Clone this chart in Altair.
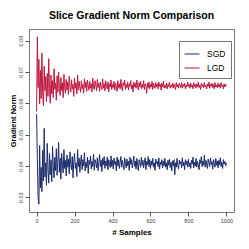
import altair as alt
import pandas as pd

samples = list(range(0, 1001, 4))

sgd = [
    0.0565, 0.0420, 0.0300, 0.0278, 0.0465, 0.0330, 0.0395, 0.0318, 0.0450, 0.0352,
    0.0520, 0.0365, 0.0410, 0.0338, 0.0472, 0.0390, 0.0345, 0.0440, 0.0372, 0.0418,
    0.0350, 0.0462, 0.0398, 0.0362, 0.0428, 0.0385, 0.0455, 0.0370, 0.0412, 0.0475,
    0.0380, 0.0425, 0.0358, 0.0440, 0.0402, 0.0378, 0.0452, 0.0392, 0.0418, 0.0368,
    0.0435, 0.0396, 0.0422, 0.0375, 0.0445, 0.0405, 0.0388, 0.0430, 0.0362, 0.0415,
    0.0440, 0.0392, 0.0410, 0.0366, 0.0452, 0.0398, 0.0425, 0.0380, 0.0415, 0.0435,
    0.0388, 0.0420, 0.0400, 0.0442, 0.0384, 0.0412, 0.0395, 0.0428, 0.0376, 0.0418,
    0.0405, 0.0432, 0.0390, 0.0415, 0.0398, 0.0438, 0.0386, 0.0420, 0.0410, 0.0394,
    0.0426, 0.0385, 0.0412, 0.0436, 0.0398, 0.0418, 0.0382, 0.0424, 0.0404, 0.0430,
    0.0392, 0.0415, 0.0400, 0.0428, 0.0388, 0.0420, 0.0408, 0.0395, 0.0432, 0.0398,
    0.0418, 0.0390, 0.0425, 0.0405, 0.0414, 0.0385, 0.0428, 0.0400, 0.0420, 0.0392,
    0.0412, 0.0430, 0.0396, 0.0418, 0.0402, 0.0388, 0.0426, 0.0408, 0.0394, 0.0422,
    0.0400, 0.0415, 0.0386, 0.0428, 0.0405, 0.0420, 0.0394, 0.0412, 0.0432, 0.0398,
    0.0416, 0.0390, 0.0424, 0.0406, 0.0385, 0.0420, 0.0410, 0.0396, 0.0428, 0.0402,
    0.0418, 0.0394, 0.0412, 0.0426, 0.0388, 0.0414, 0.0404, 0.0430, 0.0398, 0.0420,
    0.0392, 0.0416, 0.0402, 0.0424, 0.0396, 0.0410, 0.0386, 0.0422, 0.0408, 0.0414,
    0.0398, 0.0426, 0.0390, 0.0412, 0.0404, 0.0420, 0.0394, 0.0416, 0.0400, 0.0424,
    0.0396, 0.0410, 0.0388, 0.0418, 0.0402, 0.0422, 0.0395, 0.0412, 0.0384, 0.0416,
    0.0400, 0.0420, 0.0372, 0.0410, 0.0396, 0.0424, 0.0402, 0.0390, 0.0418, 0.0406,
    0.0414, 0.0394, 0.0426, 0.0400, 0.0412, 0.0388, 0.0420, 0.0404, 0.0416, 0.0396,
    0.0422, 0.0398, 0.0410, 0.0392, 0.0418, 0.0406, 0.0428, 0.0394, 0.0412, 0.0400,
    0.0424, 0.0396, 0.0414, 0.0404, 0.0388, 0.0420, 0.0408, 0.0430, 0.0398, 0.0416,
    0.0402, 0.0434, 0.0396, 0.0418, 0.0406, 0.0392, 0.0422, 0.0410, 0.0398, 0.0426,
    0.0404, 0.0414, 0.0390, 0.0420, 0.0408, 0.0396, 0.0424, 0.0402, 0.0416, 0.0394,
    0.0418, 0.0404, 0.0426, 0.0398, 0.0412, 0.0392, 0.0420, 0.0406, 0.0414, 0.0400,
    0.0410,
]

lgd = [
    0.0575, 0.0812, 0.0650, 0.0740, 0.0598, 0.0705, 0.0615, 0.0760, 0.0632, 0.0592,
    0.0718, 0.0640, 0.0685, 0.0605, 0.0695, 0.0622, 0.0742, 0.0648, 0.0600, 0.0690,
    0.0630, 0.0672, 0.0618, 0.0710, 0.0645, 0.0665, 0.0610, 0.0688, 0.0635, 0.0700,
    0.0648, 0.0625, 0.0682, 0.0640, 0.0665, 0.0618, 0.0692, 0.0650, 0.0632, 0.0676,
    0.0642, 0.0668, 0.0628, 0.0686, 0.0652, 0.0636, 0.0675, 0.0645, 0.0660, 0.0622,
    0.0680, 0.0648, 0.0665, 0.0630, 0.0690, 0.0642, 0.0670, 0.0652, 0.0635, 0.0672,
    0.0646, 0.0660, 0.0632, 0.0678, 0.0650, 0.0668, 0.0638, 0.0674, 0.0655, 0.0642,
    0.0670, 0.0648, 0.0662, 0.0636, 0.0680, 0.0652, 0.0644, 0.0672, 0.0658, 0.0640,
    0.0676, 0.0650, 0.0664, 0.0638, 0.0668, 0.0654, 0.0644, 0.0678, 0.0648, 0.0662,
    0.0640, 0.0672, 0.0656, 0.0646, 0.0668, 0.0636, 0.0662, 0.0652, 0.0674, 0.0644,
    0.0660, 0.0650, 0.0670, 0.0642, 0.0664, 0.0654, 0.0638, 0.0672, 0.0650, 0.0662,
    0.0646, 0.0676, 0.0652, 0.0640, 0.0666, 0.0656, 0.0674, 0.0644, 0.0660, 0.0650,
    0.0668, 0.0642, 0.0662, 0.0654, 0.0672, 0.0646, 0.0658, 0.0636, 0.0668, 0.0652,
    0.0664, 0.0648, 0.0674, 0.0656, 0.0642, 0.0666, 0.0652, 0.0670, 0.0646, 0.0660,
    0.0650, 0.0672, 0.0644, 0.0662, 0.0656, 0.0632, 0.0664, 0.0650, 0.0668, 0.0646,
    0.0660, 0.0652, 0.0670, 0.0644, 0.0664, 0.0656, 0.0648, 0.0666, 0.0652, 0.0662,
    0.0646, 0.0668, 0.0654, 0.0660, 0.0642, 0.0664, 0.0652, 0.0670, 0.0648, 0.0658,
    0.0650, 0.0664, 0.0646, 0.0660, 0.0654, 0.0668, 0.0648, 0.0658, 0.0652, 0.0664,
    0.0648, 0.0662, 0.0654, 0.0644, 0.0666, 0.0652, 0.0660, 0.0648, 0.0664, 0.0656,
    0.0650, 0.0666, 0.0648, 0.0660, 0.0654, 0.0664, 0.0646, 0.0658, 0.0652, 0.0668,
    0.0654, 0.0660, 0.0648, 0.0664, 0.0652, 0.0658, 0.0646, 0.0666, 0.0654, 0.0660,
    0.0648, 0.0662, 0.0652, 0.0668, 0.0650, 0.0658, 0.0644, 0.0664, 0.0654, 0.0660,
    0.0650, 0.0666, 0.0652, 0.0658, 0.0646, 0.0662, 0.0654, 0.0668, 0.0648, 0.0660,
    0.0654, 0.0664, 0.0650, 0.0660, 0.0646, 0.0666, 0.0652, 0.0658, 0.0650, 0.0664,
    0.0652, 0.0660, 0.0648, 0.0666, 0.0654, 0.0658, 0.0646, 0.0662, 0.0652, 0.0660,
    0.0656,
]

series_names = ["SGD", "LGD"]
series_colors = ["#1b2a6b", "#c0173f"]
x_ticks = [0, 200, 400, 600, 800, 1000]
y_ticks = [0.03, 0.04, 0.05, 0.06, 0.07, 0.08]

df = pd.concat([
    pd.DataFrame({"x": samples, "value": sgd, "series": "SGD"}),
    pd.DataFrame({"x": samples, "value": lgd, "series": "LGD"}),
])

FONT = "Liberation Sans"

chart = alt.Chart(df).mark_line(strokeWidth=1).encode(
    x=alt.X("x:Q", title="# Samples",
            scale=alt.Scale(domain=[-40, 1040], nice=False, zero=False),
            axis=alt.Axis(values=x_ticks, format="d", domain=False, grid=False,
                          tickSize=4, tickColor="#555", labelFontSize=5.5,
                          labelColor="#444", labelPadding=2, labelFont=FONT,
                          titleFont=FONT, titleFontSize=8, titleFontWeight="bold",
                          titlePadding=5, titleColor="#000")),
    y=alt.Y("value:Q", title="Gradient Norm",
            scale=alt.Scale(domain=[0.0253, 0.0837], nice=False, zero=False),
            axis=alt.Axis(values=y_ticks, format=".2f", domain=False, grid=False,
                          tickSize=4, tickColor="#555", labelFontSize=5.5,
                          labelColor="#444", labelPadding=2, labelAngle=270,
                          labelAlign="center", labelBaseline="bottom",
                          labelFont=FONT, titleFont=FONT, titleFontSize=7.5,
                          titleFontWeight="bold", titlePadding=1, titleColor="#000")),
    color=alt.Color("series:N",
                    scale=alt.Scale(domain=series_names, range=series_colors),
                    legend=alt.Legend(title=None, orient="none", legendX=150,
                                      legendY=12, symbolType="stroke",
                                      symbolStrokeWidth=1, symbolSize=225,
                                      labelFontSize=8.5, labelFont=FONT,
                                      labelColor="#000",
                                      strokeColor="#777", padding=5,
                                      rowPadding=1, labelOffset=7)),
    detail="series:N",
).properties(
    width=205,
    height=183,
    title=alt.TitleParams("Slice Gradient Norm Comparison", font=FONT,
                          fontSize=10.5, fontWeight="bold", anchor="middle",
                          baseline="alphabetic", offset=0, color="#000"),
    autosize=alt.AutoSizeParams(type="none"),
    padding={"left": 21, "top": 21, "right": 7, "bottom": 30},
).configure_view(stroke="#777", strokeWidth=1)

chart.save("out.html", embed_options={"renderer": "svg", "actions": False})
